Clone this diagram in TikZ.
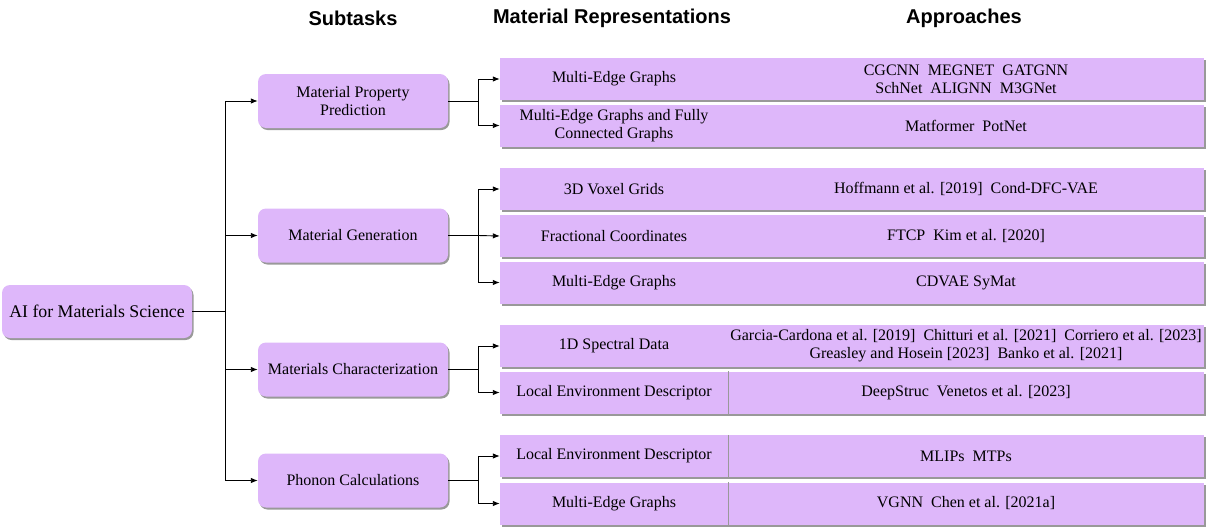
\documentclass[tikz,border=0pt]{standalone}
\usepackage{fontspec}
\setmainfont{Liberation Serif}
\newfontfamily\hdrfont{Liberation Sans}
\usetikzlibrary{shadows,arrows.meta}
\definecolor{boxfill}{HTML}{DEB7FA}
\tikzset{
  x=1pt, y=-1pt,
  shd/.style={drop shadow={shadow xshift=1.5pt, shadow yshift=-2pt, fill=black, opacity=0.4}},
  taskbox/.style={shd, fill=boxfill, rounded corners=8pt, minimum width=190pt, minimum height=54pt, inner sep=2pt, align=center, font=\fontsize{16}{18}\selectfont},
  repbox/.style={shd, fill=boxfill, minimum width=228pt, minimum height=42pt, inner sep=1pt, align=center, font=\fontsize{16}{18}\selectfont},
  appbox/.style={shd, fill=boxfill, minimum width=476pt, minimum height=42pt, inner sep=1pt, align=center, font=\fontsize{16}{18}\selectfont},
  hdr/.style={font=\hdrfont\bfseries\fontsize{20}{22}\selectfont, inner sep=0pt},
  conn/.style={line width=0.9pt, draw=black},
  arr/.style={conn, -{Latex[length=7pt,width=5.5pt]}},
  divline/.style={draw=black!40, line width=0.8pt}
}
\begin{document}
\begin{tikzpicture}
\useasboundingbox (0,0) rectangle (1209,530);
% headers
\node[hdr] (h1) at (353,18) {Subtasks};
\node[hdr] (h2) at (612,18) {Material Representations};
\node[hdr] (h3) at (964,18) {Approaches};
% root
\node[taskbox, minimum width=190pt, minimum height=53pt, font=\fontsize{17.8}{20}\selectfont] (root) at (97,311.5) {AI for Materials Science};
% subtasks
\node[taskbox] (s1) at (353,101) {Material Property\\Prediction};
\node[taskbox] (s2) at (353,235.5) {Material Generation};
\node[taskbox] (s3) at (353,369.5) {Materials Characterization};
\node[taskbox] (s4) at (353,480.5) {Phonon Calculations};
% rows: representations (left) first, then approaches (right)
\node[repbox] (r1) at (614,79) {Multi-Edge Graphs};
\node[repbox] (r2) at (614,125.5) {Multi-Edge Graphs and Fully\\Connected Graphs};
\node[repbox] (r3) at (614,189) {3D Voxel Grids};
\node[repbox] (r4) at (614,236) {Fractional Coordinates};
\node[repbox] (r5) at (614,282.5) {Multi-Edge Graphs};
\node[repbox] (r6) at (614,346) {1D Spectral Data};
\node[repbox] (r7) at (614,392.5) {Local Environment Descriptor};
\node[repbox] (r8) at (614,456) {Local Environment Descriptor};
\node[repbox] (r9) at (614,503.5) {Multi-Edge Graphs};
\node[appbox] (a1) at (966,79) {CGCNN\ \ MEGNET\ \ GATGNN\\SchNet\ \ ALIGNN\ \ M3GNet};
\node[appbox] (a2) at (966,125.5) {Matformer\ \ PotNet};
\node[appbox] (a3) at (966,189) {Hoffmann et al. [2019]\ \ Cond-DFC-VAE};
\node[appbox] (a4) at (966,236) {FTCP\ \ Kim et al. [2020]};
\node[appbox] (a5) at (966,282.5) {CDVAE SyMat};
\node[appbox] (a6) at (966,346) {Garcia-Cardona et al. [2019]\ \ Chitturi et al. [2021]\ \ Corriero et al. [2023]\\Greasley and Hosein [2023]\ \ Banko et al. [2021]};
\node[appbox] (a7) at (966,392.5) {DeepStruc\ \ Venetos et al. [2023]};
\node[appbox] (a8) at (966,456) {MLIPs\ \ MTPs};
\node[appbox] (a9) at (966,503.5) {VGNN\ \ Chen et al. [2021a]};
% dividers
\draw[divline] (r7.north east) -- (r7.south east);
\draw[divline] (r8.north east) -- (r8.south east);
\draw[divline] (r9.north east) -- (r9.south east);
% first level connectors
\coordinate (t0) at (225,311.5);
\draw[conn] (root.east) -- (t0);
\draw[arr] (t0) |- (s1.west);
\draw[arr] (t0) |- (s2.west);
\draw[arr] (t0) |- (s3.west);
\draw[arr] (t0) |- (s4.west);
% second level connectors
\coordinate (b1) at (478,101);
\coordinate (b2) at (478,235.5);
\coordinate (b3) at (478,369.5);
\coordinate (b4) at (478,480.5);
\draw[conn] (s1.east) -- (b1);
\draw[arr] (b1) |- (r1.west);
\draw[arr] (b1) |- (r2.west);
\draw[conn] (s2.east) -- (b2);
\draw[arr] (b2) |- (r3.west);
\draw[arr] (b2) -- (r4.west);
\draw[arr] (b2) |- (r5.west);
\draw[conn] (s3.east) -- (b3);
\draw[arr] (b3) |- (r6.west);
\draw[arr] (b3) |- (r7.west);
\draw[conn] (s4.east) -- (b4);
\draw[arr] (b4) |- (r8.west);
\draw[arr] (b4) |- (r9.west);
\end{tikzpicture}
\end{document}
